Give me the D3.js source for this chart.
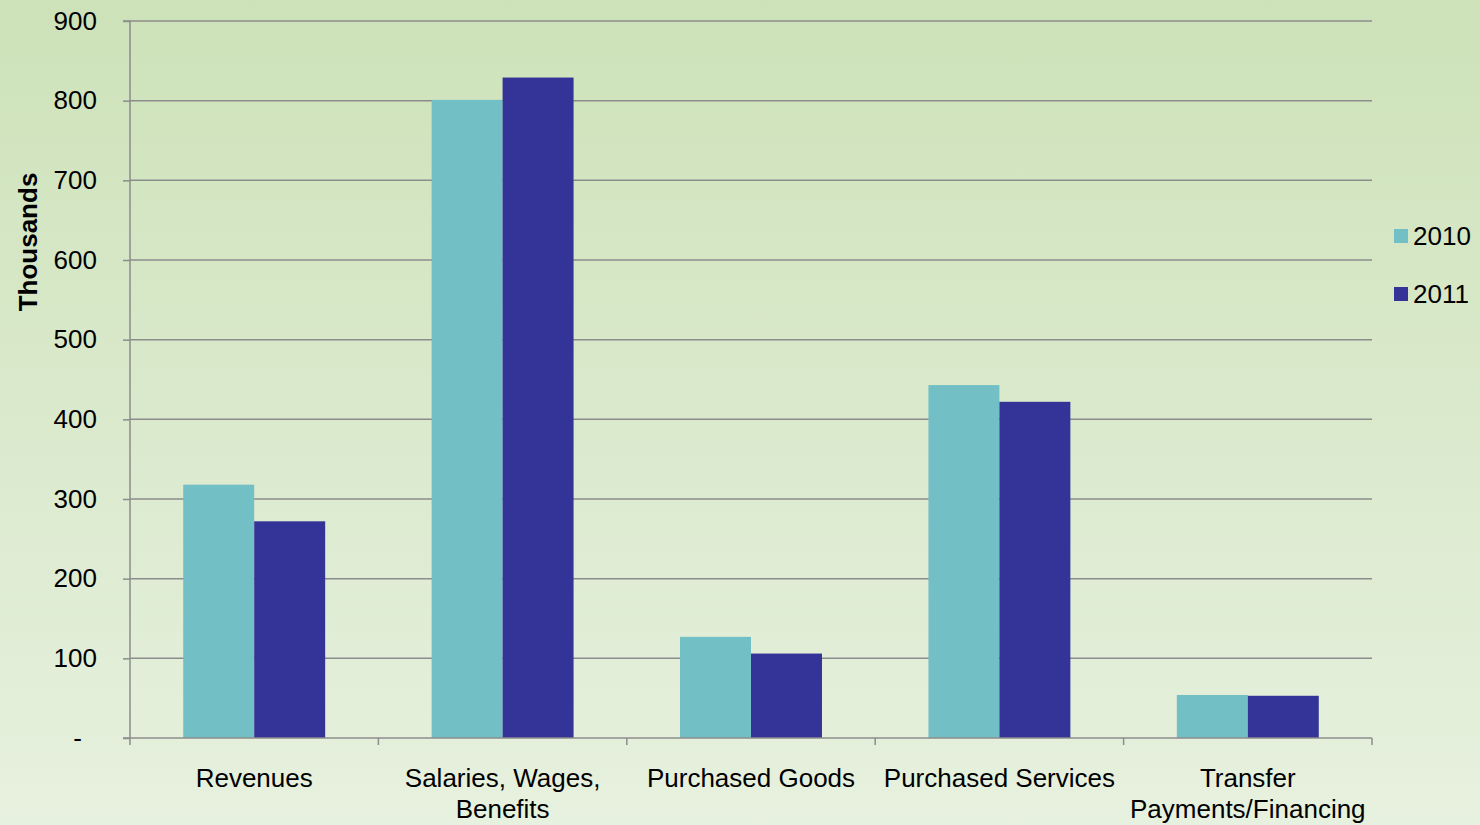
<!DOCTYPE html>
<html>
<head>
<meta charset="utf-8">
<script src="https://cdn.jsdelivr.net/npm/d3@7"></script>
<style>
  html, body { margin: 0; padding: 0; background: #dbe9cd; }
  svg { display: block; }
  text { font-family: "Liberation Sans", Arial, sans-serif; fill: #000; }
</style>
</head>
<body>
<svg id="chart" width="1480" height="825"></svg>
<script>
const categories = [["Revenues"], ["Salaries, Wages,", "Benefits"], ["Purchased Goods"], ["Purchased Services"], ["Transfer", "Payments/Financing"]];
const seriesNames = ["2010", "2011"];
const values2010 = [318, 801, 127, 443, 54];
const values2011 = [272, 829, 106, 422, 53];
const yTicks = [0, 100, 200, 300, 400, 500, 600, 700, 800, 900];
const colors = ["#72bfc5", "#343398"];

const W = 1480, H = 825;
const margin = { left: 130, right: 108, top: 21, bottom: 87 };
const FS = "26px";
const svg = d3.select("#chart");

const defs = svg.append("defs");
const grad = defs.append("linearGradient").attr("id", "bg").attr("x1", 0).attr("y1", 0).attr("x2", 0).attr("y2", 1);
grad.append("stop").attr("offset", "0%").attr("stop-color", "#cde2b9");
grad.append("stop").attr("offset", "100%").attr("stop-color", "#e7f1df");
svg.append("rect").attr("width", W).attr("height", H).attr("fill", "url(#bg)");

const x0 = d3.scaleBand().domain(d3.range(categories.length)).range([margin.left, W - margin.right]).paddingInner(0).paddingOuter(0);
const x1 = d3.scaleBand().domain(seriesNames).range([0, x0.bandwidth()]).paddingInner(0).paddingOuter(0.75);
const y = d3.scaleLinear().domain([0, 900]).range([H - margin.bottom, margin.top]);

// gridlines
svg.append("g").selectAll("line").data(yTicks.slice(1)).join("line")
  .attr("x1", margin.left).attr("x2", W - margin.right)
  .attr("y1", d => y(d)).attr("y2", d => y(d))
  .attr("stroke", "#8c8c8c").attr("stroke-width", 1.5);

// bars
const data = [values2010, values2011];
const groups = svg.append("g").selectAll("g").data(categories).join("g")
  .attr("transform", (d, i) => `translate(${x0(i)},0)`);
groups.selectAll("rect").data((d, i) => seriesNames.map((s, j) => ({ s, v: data[j][i], j })))
  .join("rect")
  .attr("x", d => x1(d.s)).attr("width", x1.bandwidth())
  .attr("y", d => y(d.v)).attr("height", d => y(0) - y(d.v))
  .attr("fill", d => colors[d.j]);

// y axis
const yAxis = d3.axisLeft(y).tickValues(yTicks).tickSize(7).tickPadding(26)
  .tickFormat(d => d === 0 ? "-" : d);
const gy = svg.append("g").attr("transform", `translate(${margin.left},0)`).call(yAxis);
gy.attr("font-size", null).attr("font-family", null);
gy.select(".domain").attr("stroke", "#8c8c8c").attr("stroke-width", 1.5).attr("d", `M-7,${y(900)}H0V${y(0)}`);
gy.selectAll(".tick line").attr("stroke", "#8c8c8c").attr("stroke-width", 1.5);
gy.selectAll(".tick text").style("font-size", FS).attr("fill", "#000");
gy.selectAll(".tick").filter(d => d === 0).select("text").attr("dx", -15);

// x axis
const xEdges = d3.range(categories.length + 1).map(i => margin.left + i * x0.bandwidth());
const gx = svg.append("g");
gx.append("line").attr("x1", margin.left - 7).attr("x2", W - margin.right)
  .attr("y1", y(0)).attr("y2", y(0)).attr("stroke", "#8c8c8c").attr("stroke-width", 1.5);
gx.selectAll("line.t").data(xEdges).join("line").attr("class", "t")
  .attr("x1", d => d).attr("x2", d => d).attr("y1", y(0)).attr("y2", y(0) + 7)
  .attr("stroke", "#8c8c8c").attr("stroke-width", 1.5);
const labels = gx.selectAll("text.cat").data(categories).join("text").attr("class", "cat")
  .attr("text-anchor", "middle").style("font-size", FS)
  .attr("transform", (d, i) => `translate(${x0(i) + x0.bandwidth() / 2},${y(0) + 49})`);
labels.selectAll("tspan").data(d => d).join("tspan")
  .attr("x", 0).attr("dy", (d, k) => k === 0 ? 0 : 31).text(d => d);

// y title
svg.append("text").attr("transform", `translate(37,242) rotate(-90)`)
  .attr("text-anchor", "middle").style("font-size", FS).style("font-weight", "bold").text("Thousands");

// legend
const leg = svg.append("g").selectAll("g").data(seriesNames).join("g")
  .attr("transform", (d, i) => `translate(1394,${229 + i * 58})`);
leg.append("rect").attr("width", 14).attr("height", 14).attr("fill", (d, i) => colors[i]);
leg.append("text").attr("x", 19).attr("y", 16).style("font-size", FS).text(d => d);
</script>
</body>
</html>
